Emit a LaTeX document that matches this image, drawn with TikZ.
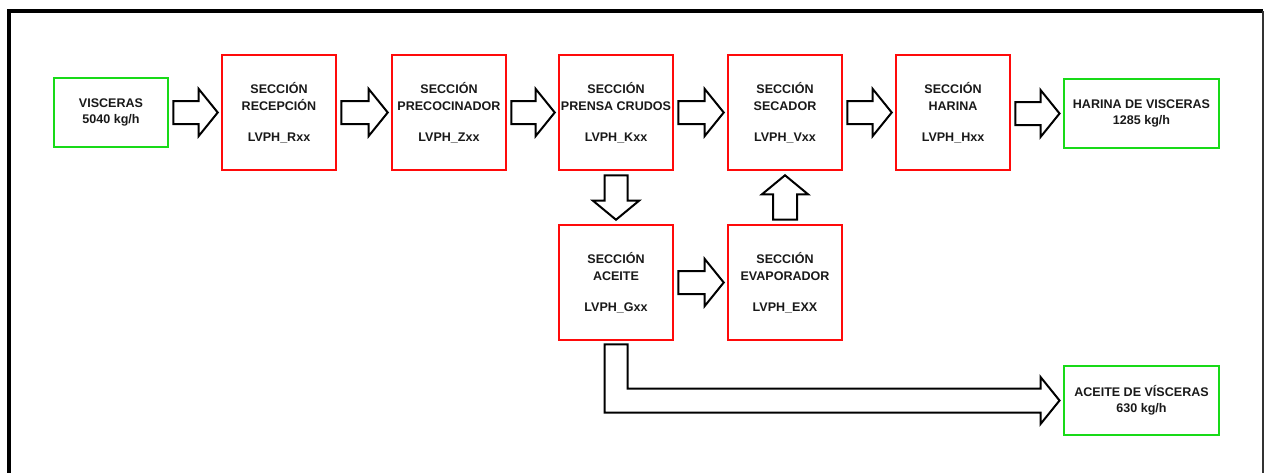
\documentclass[tikz,border=0pt]{standalone}
\usepackage{fontspec}
\setmainfont{Liberation Sans}
\usetikzlibrary{calc}
\definecolor{boxgreen}{RGB}{24,218,24}
\definecolor{boxred}{RGB}{255,10,10}
\newcommand\blockR[2]{%
  \draw[barrow] ($(#1.east |- #2.west)+(4,-11.5)$) -- ($(#2.west)+(-22,-11.5)$) -- ($(#2.west)+(-22,-23.5)$)
    -- ($(#2.west)+(-3,0)$) -- ($(#2.west)+(-22,23.5)$) -- ($(#2.west)+(-22,11.5)$)
    -- ($(#1.east |- #2.west)+(4,11.5)$) -- cycle;}
\begin{document}
\begin{tikzpicture}[x=0.75pt,y=-0.75pt,
  boxtext/.style={align=center, inner sep=0pt, font=\bfseries\fontsize{9.4}{12.75}\selectfont, text=black!90},
  redbox/.style={boxtext, draw=boxred, line width=1.9pt, minimum width=114*0.75pt, minimum height=115*0.75pt},
  greenbox/.style={boxtext, draw=boxgreen, line width=2.2pt, minimum height=69*0.75pt, font=\bfseries\fontsize{9.4}{12}\selectfont},
  barrow/.style={draw=black, line width=1.5pt, fill=white, line join=miter}]
\useasboundingbox (0,0) rectangle (1269,472);
\draw[line width=2.3pt] (9,473) -- (9,11) -- (1263,11);
\draw[line width=1.6pt, black!80] (1263,11) -- (1263,473);

\node[greenbox, minimum width=114*0.75pt] (vis) at (111,112.5) {VISCERAS\\5040 kg/h};
\node[redbox] (rec) at (279,112.5) {SECCIÓN\\RECEPCIÓN\\[10.5pt]LVPH\_Rxx};
\node[redbox] (pco) at (449,112.5) {SECCIÓN\\PRECOCINADOR\\[10.5pt]LVPH\_Zxx};
\node[redbox] (pre) at (616,112.5) {SECCIÓN\\PRENSA CRUDOS\\[10.5pt]LVPH\_Kxx};
\node[redbox] (sec) at (785,112.5) {SECCIÓN\\SECADOR\\[10.5pt]LVPH\_Vxx};
\node[redbox] (har) at (953,112.5) {SECCIÓN\\HARINA\\[10.5pt]LVPH\_Hxx};
\node[greenbox, minimum width=155*0.75pt] (hdv) at (1141.5,113.5) {HARINA DE VISCERAS\\1285 kg/h};
\node[redbox] (ace) at (616,282.5) {SECCIÓN\\ACEITE\\[10.5pt]LVPH\_Gxx};
\node[redbox] (eva) at (785,282.5) {SECCIÓN\\EVAPORADOR\\[10.5pt]LVPH\_EXX};
\node[greenbox, minimum width=155*0.75pt] (acv) at (1141.5,400.5) {ACEITE DE VÍSCERAS\\630 kg/h};

\blockR{vis}{rec}
\blockR{rec}{pco}
\blockR{pco}{pre}
\blockR{pre}{sec}
\blockR{sec}{har}
\blockR{har}{hdv}
\blockR{ace}{eva}

% down arrow: prensa -> aceite
\draw[barrow] ($(pre.south)+(-11.5,4)$) -- ($(ace.north)+(-11.5,-23)$) -- ($(ace.north)+(-23,-23)$)
  -- ($(ace.north)+(0,-4)$) -- ($(ace.north)+(23,-23)$) -- ($(ace.north)+(11.5,-23)$)
  -- ($(pre.south)+(11.5,4)$) -- cycle;
% up arrow: evaporador -> secador
\draw[barrow] ($(eva.north)+(-12,-4)$) -- ($(sec.south)+(-12,23)$) -- ($(sec.south)+(-23,23)$)
  -- ($(sec.south)+(0,4)$) -- ($(sec.south)+(23,23)$) -- ($(sec.south)+(12,23)$)
  -- ($(eva.north)+(12,-4)$) -- cycle;
% L arrow: aceite -> aceite de visceras
\coordinate (l1) at ($(ace.south)+(-11.5,3)$);
\coordinate (l2) at ($(ace.south)+(11.5,3)$);
\coordinate (l3) at ($(acv.west)+(-22,-12)$);
\coordinate (l4) at ($(acv.west)+(-22,12)$);
\draw[barrow] (l1) -- (l2) -- (l2 |- l3) -- (l3) -- ($(acv.west)+(-22,-23.5)$)
  -- ($(acv.west)+(-3,0)$) -- ($(acv.west)+(-22,23.5)$) -- (l4) -- (l1 |- l4) -- cycle;
\end{tikzpicture}
\end{document}
